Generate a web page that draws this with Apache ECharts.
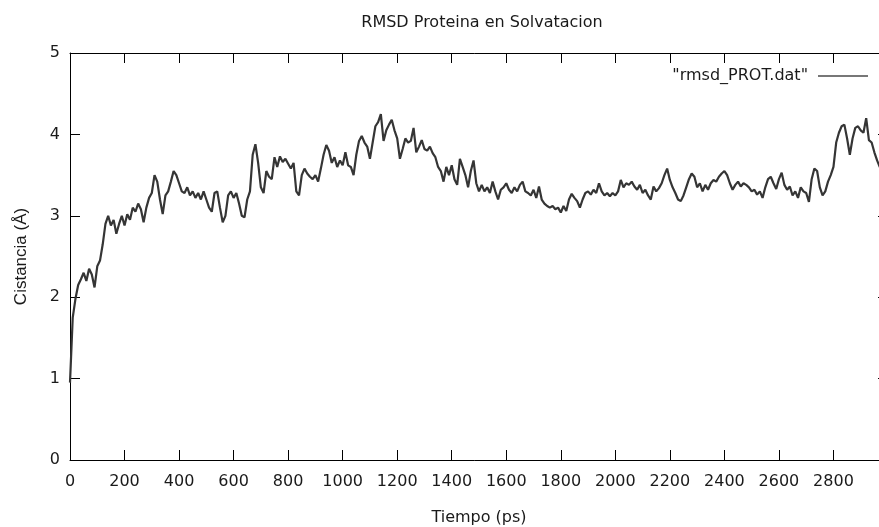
<!DOCTYPE html>
<html>
<head>
<meta charset="utf-8">
<script src="https://cdn.jsdelivr.net/npm/echarts@6/dist/echarts.min.js"></script>
<style>html,body{margin:0;padding:0;background:#fff;}#c{width:879px;height:527px;}</style>
</head>
<body>
<div id="c"></div>
<script>
// Time step of the samples (ps) and RMSD values (Å)
var timeStart = 0;
var timeStep = 10;
var rmsd = [
0.95,1.75,1.98,2.15,2.22,2.30,2.20,2.35,2.28,2.12,
2.38,2.45,2.65,2.90,3.00,2.88,2.95,2.78,2.90,3.00,
2.88,3.02,2.95,3.10,3.05,3.15,3.08,2.92,3.10,3.22,
3.28,3.50,3.42,3.20,3.02,3.25,3.30,3.42,3.55,3.50,
3.40,3.30,3.28,3.35,3.25,3.30,3.22,3.28,3.20,3.30,
3.20,3.10,3.05,3.28,3.30,3.10,2.92,3.00,3.25,3.30,
3.22,3.28,3.15,3.00,2.98,3.20,3.30,3.75,3.88,3.65,
3.35,3.28,3.55,3.48,3.45,3.72,3.60,3.73,3.66,3.70,
3.64,3.58,3.65,3.30,3.25,3.50,3.58,3.52,3.48,3.45,
3.50,3.42,3.58,3.75,3.87,3.80,3.65,3.72,3.60,3.68,
3.62,3.78,3.62,3.60,3.50,3.75,3.92,3.98,3.90,3.85,
3.70,3.90,4.10,4.15,4.25,3.92,4.05,4.12,4.18,4.05,
3.95,3.70,3.82,3.95,3.90,3.92,4.08,3.78,3.85,3.93,
3.82,3.80,3.85,3.77,3.72,3.60,3.55,3.42,3.60,3.50,
3.62,3.45,3.38,3.70,3.60,3.50,3.35,3.55,3.68,3.40,
3.30,3.38,3.30,3.35,3.28,3.42,3.30,3.20,3.32,3.35,
3.40,3.32,3.28,3.35,3.30,3.38,3.42,3.30,3.28,3.25,
3.32,3.22,3.36,3.20,3.15,3.12,3.10,3.12,3.08,3.10,
3.04,3.12,3.06,3.20,3.27,3.22,3.18,3.10,3.20,3.28,
3.30,3.26,3.32,3.28,3.40,3.30,3.25,3.28,3.24,3.28,
3.25,3.30,3.44,3.35,3.40,3.38,3.42,3.36,3.32,3.38,
3.28,3.32,3.25,3.20,3.36,3.30,3.34,3.40,3.50,3.58,
3.44,3.35,3.28,3.20,3.18,3.25,3.35,3.45,3.52,3.48,
3.35,3.40,3.30,3.38,3.32,3.40,3.44,3.42,3.48,3.52,
3.55,3.50,3.40,3.32,3.38,3.42,3.36,3.40,3.38,3.35,
3.30,3.32,3.26,3.30,3.22,3.35,3.45,3.48,3.40,3.33,
3.45,3.53,3.38,3.32,3.36,3.25,3.30,3.22,3.35,3.30,
3.28,3.17,3.45,3.58,3.55,3.35,3.25,3.30,3.42,3.50,
3.60,3.90,4.02,4.10,4.12,3.95,3.75,3.95,4.08,4.10,
4.05,4.02,4.20,3.93,3.90,3.78,3.68,3.60,3.55,3.50,
3.48
];
var seriesName = '"rmsd_PROT.dat"';
var titleText = 'RMSD Proteina en Solvatacion';
var xName = 'Tiempo (ps)';
var yName = 'Cistancia (Å)';
var xMin = 0, xMax = 3000, xStep = 200;
var yMin = 0, yMax = 5, yStep = 1;

var points = rmsd.map(function (v, i) { return [timeStart + i * timeStep, v]; });

var font = 'DejaVu Sans';
var chart = echarts.init(document.getElementById('c'), null, {renderer: 'canvas'});
var tickCommon = {show: true, inside: true, length: 10, lineStyle: {color: '#000', width: 1}};
var lineCommon = {show: true, onZero: false, lineStyle: {color: '#000', width: 1}};
var plain = function (v) { return String(v); };
chart.setOption({
  animation: false,
  backgroundColor: '#fff',
  title: {
    text: titleText, left: 477, top: 10, textAlign: 'center',
    textStyle: {fontFamily: font, fontSize: 16, fontWeight: 'normal', color: '#1a1a1a'}
  },
  legend: {
    data: [{name: seriesName, icon: 'rect'}],
    right: 6, top: 63, align: 'right',
    itemWidth: 50, itemHeight: 1.5,
    itemStyle: {color: '#4a4a4a'},
    textStyle: {fontFamily: font, fontSize: 16, color: '#1a1a1a', padding: [0, 5, 0, 0]}
  },
  grid: {left: 70, top: 53, width: 818, height: 407, containLabel: false, outerBoundsMode: 'none'},
  xAxis: [{
    type: 'value', min: xMin, max: xMax, interval: xStep, position: 'bottom',
    name: xName, nameLocation: 'middle', nameGap: 50,
    nameTextStyle: {fontFamily: font, fontSize: 16, color: '#1a1a1a'},
    axisLine: lineCommon,
    axisTick: tickCommon,
    axisLabel: {fontFamily: font, fontSize: 16, color: '#1a1a1a', margin: 14, showMaxLabel: false, formatter: plain},
    splitLine: {show: false}
  }, {
    type: 'value', min: xMin, max: xMax, interval: xStep, position: 'top',
    axisLine: lineCommon,
    axisTick: tickCommon, axisLabel: {show: false}, splitLine: {show: false}
  }],
  yAxis: [{
    type: 'value', min: yMin, max: yMax, interval: yStep, position: 'left',
    name: yName, nameLocation: 'middle', nameGap: 40,
    nameTextStyle: {fontFamily: 'Liberation Sans', fontSize: 17, color: '#1a1a1a'},
    axisLine: lineCommon,
    axisTick: tickCommon,
    axisLabel: {fontFamily: font, fontSize: 16, color: '#1a1a1a', margin: 10, formatter: plain},
    splitLine: {show: false}
  }, {
    type: 'value', min: yMin, max: yMax, interval: yStep, position: 'right',
    axisLine: lineCommon,
    axisTick: tickCommon, axisLabel: {show: false}, splitLine: {show: false}
  }],
  series: [{
    name: seriesName, type: 'line', data: points, xAxisIndex: 0, yAxisIndex: 0,
    symbol: 'none', showSymbol: false,
    lineStyle: {color: '#353535', width: 2.2}, itemStyle: {color: '#353535'}
  }]
});
</script>
</body>
</html>
